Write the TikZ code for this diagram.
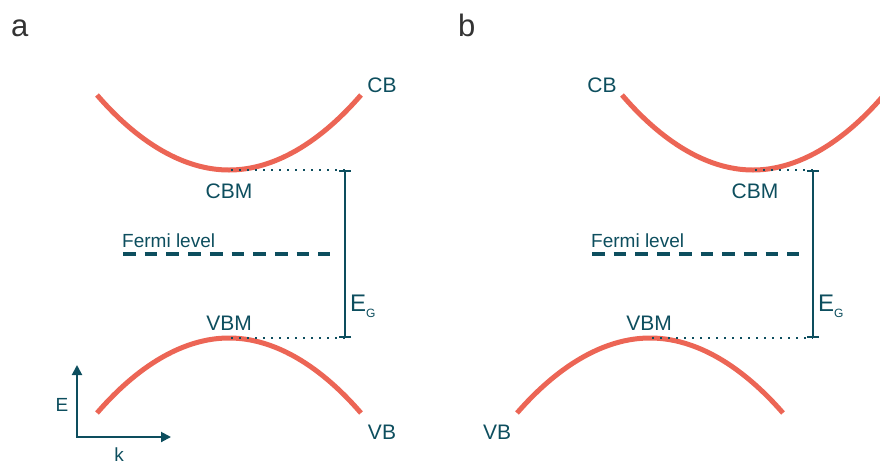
\documentclass[tikz,border=0pt]{standalone}
\usepackage{fontspec}
\setmainfont{Liberation Sans}
\usetikzlibrary{arrows.meta}

\definecolor{bandred}{HTML}{EC6555}
\definecolor{tealdark}{HTML}{0D4E5E}
\definecolor{panelgrey}{HTML}{333333}

\begin{document}
\begin{tikzpicture}[
  x=1pt, y=-1pt,
  band/.style={draw=bandred, line width=5pt},
  lvl/.style={draw=tealdark, line width=2.2pt, dash pattern=on 2.2pt off 5.8pt},
  fermi/.style={draw=tealdark, line width=4.5pt, dash pattern=on 12.7pt off 9pt},
  gap/.style={draw=tealdark, line width=2pt, {Bar[width=12pt]}-{Bar[width=12pt]}},
  axis/.style={draw=tealdark, line width=2pt, -{Triangle[length=10pt,width=10pt]}},
  lab/.style={font=\fontsize{21}{21}\selectfont, text=tealdark, inner sep=0pt, anchor=base},
  small/.style={font=\fontsize{19}{19}\selectfont, text=tealdark, inner sep=0pt, anchor=base},
  panel/.style={font=\fontsize{31}{31}\selectfont, text=panelgrey, inner sep=0pt, anchor=base west},
  egap/.style={font=\fontsize{24}{24}\selectfont, text=tealdark, inner sep=0pt, anchor=base west},
]
  \useasboundingbox (0,0) rectangle (880,464);
  \clip (0,0) rectangle (880,464);

  % panel a: direct gap
  \node[panel] (lblA) at (11,36) {a};

  \draw[band] (97,95) parabola bend (229,170) (361,95);
  \draw[band] (97,413) parabola bend (229,338) (361,413);

  \coordinate (cbmA) at (231,170);
  \coordinate (vbmA) at (231,338);
  \coordinate (topA) at (345,170);
  \coordinate (botA) at (345,338);
  \draw[lvl] (cbmA) -- (topA);
  \draw[lvl] (vbmA) -- (botA);
  \draw[gap] (topA) -- (botA);

  \node[lab] (cbA) at (382,92) {CB};
  \node[lab] (cbmlabA) at (229,198) {CBM};
  \node[lab] (vbmlabA) at (229,330) {VBM};
  \node[lab] (vbA) at (382,439) {VB};
  \node[egap] (egA) at (350,311) {E\raisebox{-6pt}{\fontsize{12}{12}\selectfont G}};

  \node[small, anchor=base west] (fermiA) at (122,247) {Fermi level};
  \coordinate (fa1) at (123,254);
  \coordinate (fa2) at (330,254);
  \draw[fermi] (fa1) -- (fa2);

  % E-k axes
  \coordinate (orig) at (77,437);
  \coordinate (eTip) at (77,365);
  \coordinate (kTip) at (171,437);
  \draw[axis] ([yshift=1pt]orig) -- (eTip);
  \draw[axis] ([xshift=-1pt]orig) -- (kTip);
  \node[small] (eLbl) at (62,411) {E};
  \node[small] (kLbl) at (119,461) {k};

  % panel b: indirect gap
  \node[panel] (lblB) at (458,36) {b};

  \draw[band] (622,95) parabola bend (753,170) (884,95);
  \draw[band] (517,413) parabola bend (650,338) (783,413);

  \coordinate (cbmB) at (755,170);
  \coordinate (vbmB) at (652,338);
  \coordinate (topB) at (813,170);
  \coordinate (botB) at (813,338);
  \draw[lvl] (cbmB) -- (topB);
  \draw[lvl] (vbmB) -- (botB);
  \draw[gap] (topB) -- (botB);

  \node[lab] (cbB) at (602,92) {CB};
  \node[lab] (cbmlabB) at (755,198) {CBM};
  \node[lab] (vbmlabB) at (649,330) {VBM};
  \node[lab] (vbB) at (497,439) {VB};
  \node[egap] (egB) at (818,311) {E\raisebox{-6pt}{\fontsize{12}{12}\selectfont G}};

  \node[small, anchor=base west] (fermiB) at (591,247) {Fermi level};
  \coordinate (fb1) at (592,254);
  \coordinate (fb2) at (799,254);
  \draw[fermi] (fb1) -- (fb2);
\end{tikzpicture}
\end{document}
